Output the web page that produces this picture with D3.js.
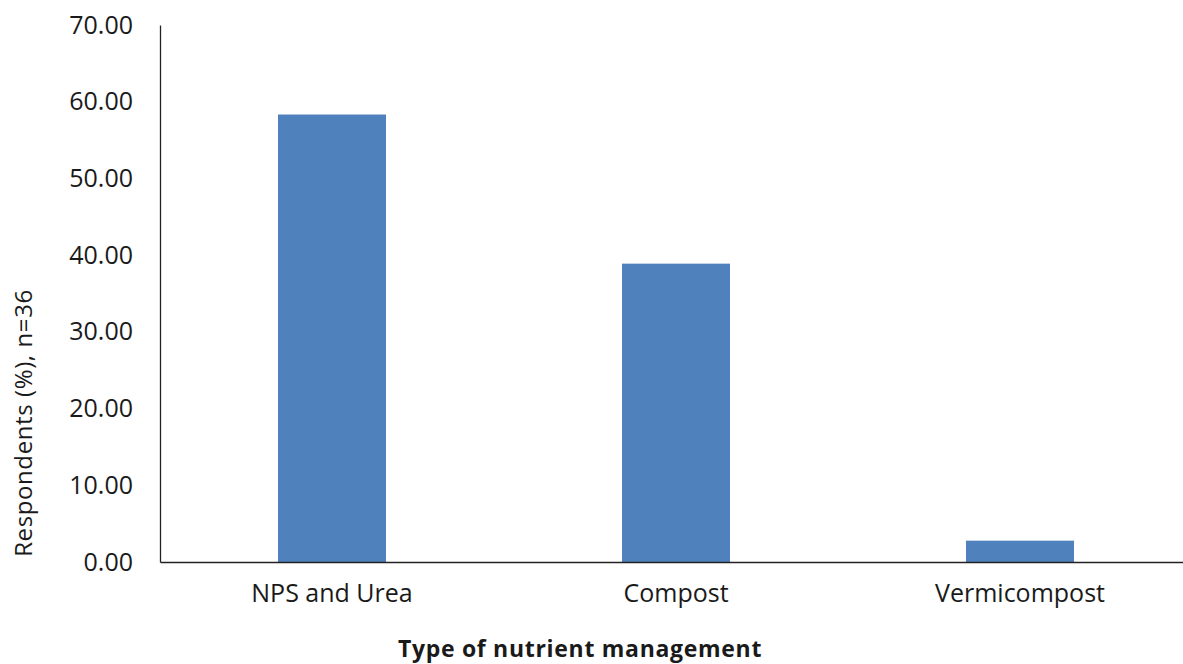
<!DOCTYPE html>
<html>
<head>
<meta charset="utf-8">
<script src="https://cdn.jsdelivr.net/npm/d3@7"></script>
<style>
  html, body { margin: 0; padding: 0; background: #fff; }
  svg { display: block; font-family: "Open Sans", sans-serif; }
</style>
</head>
<body>
<svg id="chart" width="1183" height="664"></svg>
<script>
// Share of respondents (n=36) by type of nutrient management
const categories = ["NPS and Urea", "Compost", "Vermicompost"];
const percentValues = [58.33, 38.89, 2.78];
const yTickValues = [0, 10, 20, 30, 40, 50, 60, 70];

const svg = d3.select("#chart");
const plot = { left: 160, right: 1192, top: 25, bottom: 562 };

const x = d3.scaleBand()
  .domain(categories)
  .range([plot.left, plot.right])
  .padding(0);

const y = d3.scaleLinear()
  .domain([0, 70])
  .range([plot.bottom, plot.top]);

const barWidth = x.bandwidth() * 0.314;

// Bars
svg.append("g")
  .selectAll("rect")
  .data(categories.map((c, i) => ({ c, v: percentValues[i] })))
  .join("rect")
  .attr("x", d => x(d.c) + (x.bandwidth() - barWidth) / 2)
  .attr("y", d => y(d.v))
  .attr("width", barWidth)
  .attr("height", d => y(0) - y(d.v))
  .attr("fill", "#4F81BD");

// Y axis
const yAxis = svg.append("g")
  .attr("transform", `translate(${plot.left},0)`)
  .call(d3.axisLeft(y).tickValues(yTickValues).tickFormat(d3.format(".2f")).tickSize(0).tickPadding(27));
yAxis.select(".domain").attr("stroke", "#222").attr("stroke-width", 1.3);
yAxis.selectAll("text")
  .attr("font-size", 25)
  .attr("fill", "#1a1a1a")
  .attr("font-family", "Open Sans, sans-serif");

// X axis
const xAxis = svg.append("g")
  .attr("transform", `translate(0,${plot.bottom})`)
  .call(d3.axisBottom(x).tickSize(0).tickPadding(22));
xAxis.select(".domain").attr("stroke", "#222").attr("stroke-width", 1.3);
xAxis.selectAll("text")
  .attr("font-size", 25)
  .attr("fill", "#1a1a1a")
  .attr("font-family", "Open Sans, sans-serif");

// Axis titles
svg.append("text")
  .attr("x", 580)
  .attr("y", 657)
  .attr("text-anchor", "middle")
  .attr("font-size", 23)
  .attr("font-weight", "bold")
  .attr("letter-spacing", 0.7)
  .attr("fill", "#1a1a1a")
  .text("Type of nutrient management");

svg.append("text")
  .attr("transform", "translate(32,423) rotate(-90)")
  .attr("text-anchor", "middle")
  .attr("font-size", 24)
  .attr("letter-spacing", 0.6)
  .attr("fill", "#1a1a1a")
  .text("Respondents (%), n=36");
</script>
</body>
</html>
